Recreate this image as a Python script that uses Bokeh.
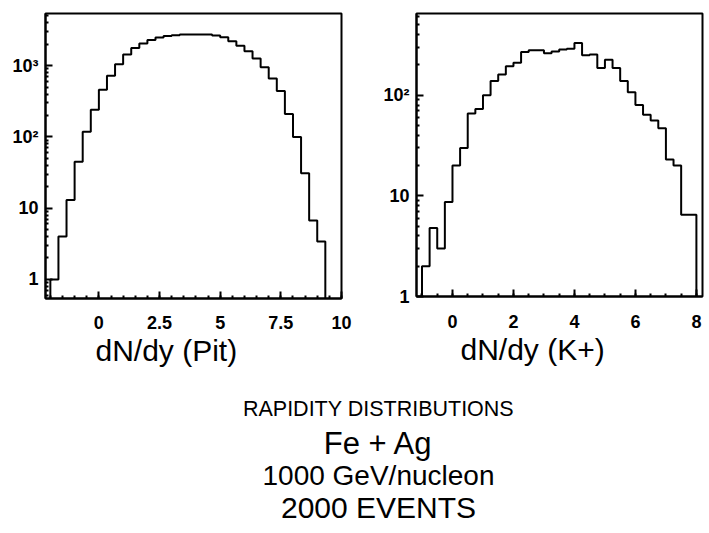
import numpy as np
from bokeh.plotting import figure
from bokeh.layouts import column, row
from bokeh.models import Range1d, FixedTicker, Title
from bokeh.embed import file_html
from bokeh.resources import INLINE
from bokeh.core.properties import value

# ---- data ----
pi_start = -2.0
pi_width = 1.0 / 3.0
pi_counts = [1, 4, 13, 45, 118, 240, 458, 720, 1050, 1440, 1770, 2050, 2300,
             2480, 2600, 2680, 2730, 2750, 2750, 2730, 2650, 2500, 2200, 1900,
             1600, 1260, 950, 660, 440, 210, 100, 31, 6.7, 3.4]

k_start = -1.0
k_width = 0.25
k_counts = [2, 4.8, 3, 8.7, 20, 30, 66, 73, 100, 139, 161, 194, 210, 270, 280,
            280, 262, 272, 285, 290, 330, 250, 255, 187, 225, 187, 139, 107,
            80, 64, 56, 47, 23, 20, 6.5, 6.5]

pi_xticks = [0, 2.5, 5, 7.5, 10]
k_xticks = [0, 2, 4, 6, 8]
pi_ylabels = {1: "1", 10: "10", 100: "10²", 1000: "10³"}
k_ylabels = {1: "1", 10: "10", 100: "10²"}
pi_xlabel = "dN/dy (Pit)"
k_xlabel = "dN/dy (K+)"
title_lines = ["RAPIDITY DISTRIBUTIONS", "Fe + Ag", "1000 GeV/nucleon", "2000 EVENTS"]

FONT = "Liberation Sans"


def make_hist(counts, start, width, xr, yr, xticks, ylabels, xlabel,
              fw, fh, bl, bt, br, bb, label_standoff, label_offset):
    p = figure(x_range=Range1d(*xr), y_range=Range1d(*yr), y_axis_type="log",
               frame_width=fw, frame_height=fh,
               min_border_left=bl, min_border_top=bt, min_border_right=br,
               min_border_bottom=bb, output_backend="svg", toolbar_location=None)
    p.grid.visible = False
    p.outline_line_color = "black"
    p.outline_line_width = 2
    p.outline_line_alpha = 1

    edges = start + width * np.arange(len(counts) + 1)
    xs = np.repeat(edges, 2)
    ys = np.concatenate([[yr[0]], np.repeat(counts, 2), [yr[0]]])
    p.line(xs, ys, line_color="black", line_width=2)

    # x axis
    minor = list(np.arange(np.ceil(xr[0] * 2) / 2, xr[1] + 1e-9, 0.5))
    p.xaxis.ticker = FixedTicker(ticks=xticks, minor_ticks=minor)
    p.xaxis.major_label_standoff = label_standoff

    # x-axis caption (placed left of centre, as in the original)
    p.add_layout(Title(text=xlabel, align="left", offset=label_offset,
                       text_font=FONT, text_font_size="30px",
                       text_font_style="normal", text_color="black",
                       standoff=0), "below")

    # y axis
    dec = [10 ** e for e in range(-1, 5)]
    yminor = [m * d for d in dec for m in range(2, 10) if yr[0] <= m * d <= yr[1]]
    p.yaxis.ticker = FixedTicker(ticks=list(ylabels.keys()), minor_ticks=yminor)
    p.yaxis.major_label_overrides = ylabels
    p.yaxis.major_label_standoff = 7

    for ax in (p.xaxis[0], p.yaxis[0]):
        ax.axis_line_width = 2
        ax.axis_line_color = "black"
        ax.major_tick_in = 7
        ax.major_tick_out = 0
        ax.minor_tick_in = 3
        ax.minor_tick_out = 0
        ax.major_tick_line_width = 2
        ax.minor_tick_line_width = 2
        ax.major_label_text_font = FONT
        ax.major_label_text_font_style = "bold"
        ax.major_label_text_font_size = "18px"
        ax.major_label_text_color = "black"
    return p


p1 = make_hist(pi_counts, pi_start, pi_width, (-2.2, 10.0), (0.54, 5400),
               pi_xticks, pi_ylabels, pi_xlabel,
               fw=296, fh=285, bl=45, bt=13, br=39, bb=82,
               label_standoff=17, label_offset=50)
p2 = make_hist(k_counts, k_start, k_width, (-1.18, 8.2), (1.0, 650),
               k_xticks, k_ylabels, k_xlabel,
               fw=286, fh=283, bl=36, bt=10, br=7, bb=87,
               label_standoff=18, label_offset=44)

# ---- caption block ----
pt = figure(x_range=Range1d(0, 709), y_range=Range1d(153, 0),
            width=709, height=153, min_border=0, output_backend="svg",
            toolbar_location=None)
pt.axis.visible = False
pt.grid.visible = False
pt.outline_line_color = None
line_y = [28, 63, 95, 127]
line_size = ["21.5px", "31px", "28px", "30px"]
for t, yy, fs in zip(title_lines, line_y, line_size):
    pt.text(x=[378], y=[yy], text=[t],
            text_align="center", text_baseline="middle",
            text_font=value(FONT), text_font_size=fs, text_color="black")

layout = column(row(p1, p2), pt)
open("out.html", "w").write(file_html(layout, INLINE))
